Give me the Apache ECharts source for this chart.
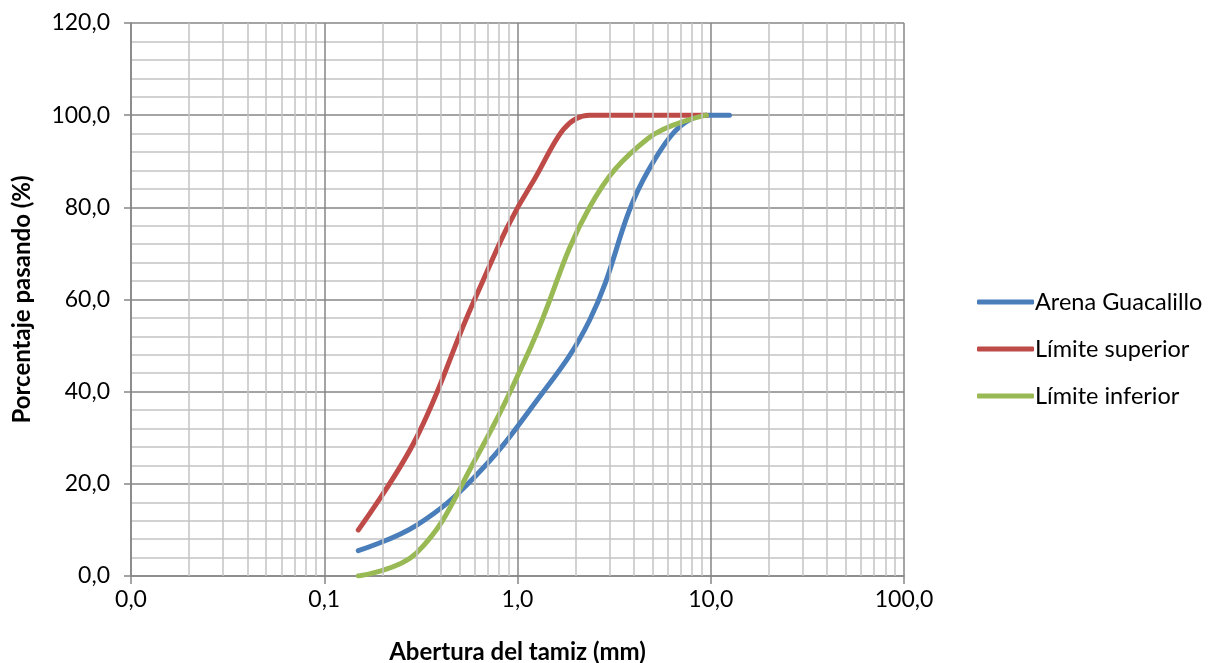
<!DOCTYPE html>
<html>
<head>
<meta charset="utf-8">
<script src="https://cdn.jsdelivr.net/npm/echarts@6/dist/echarts.min.js"></script>
<style>
html,body{margin:0;padding:0;background:#fff;}
#chart{width:1215px;height:663px;}
</style>
</head>
<body>
<div id="chart"></div>
<script>
// Sieve openings (mm)
const sieves = [0.15, 0.3, 0.6, 1.18, 2.36, 4.75, 9.5, 12.5];
const arenaGuacalillo = [5.5, 11, 21.5, 36.5, 55.5, 88, 100, 100];
const sievesLimits = [0.15, 0.3, 0.6, 1.18, 2.36, 4.75, 9.5];
const limiteSuperior = [10, 30, 60, 85, 100, 100, 100];
const limiteInferior = [0, 5, 25, 50, 80, 95, 100];
const seriesNames = ['Arena Guacalillo', 'Límite superior', 'Límite inferior'];
// minor log grid values
const minorX = [0.02,0.03,0.04,0.05,0.06,0.07,0.08,0.09,
                0.2,0.3,0.4,0.5,0.6,0.7,0.8,0.9,
                2,3,4,5,6,7,8,9,
                20,30,40,50,60,70,80,90];

const fontFam = 'Lato, "Open Sans", sans-serif';
const chart = echarts.init(document.getElementById('chart'));
function pair(xs, ys){ return xs.map((x,i)=>[x, ys[i]]); }
const fmt = v => Number(v).toFixed(1).replace('.', ',');
const SMOOTH = 0.4;

chart.setOption({
  animation: false,
  backgroundColor: '#fff',
  grid: {left: 131, right: 311, top: 23, bottom: 87, containLabel: false, outerBoundsMode: 'none'},
  legend: {
    orient: 'vertical', left: 972, top: 285,
    itemWidth: 57, itemHeight: 5, itemGap: 23,
    icon: 'roundRect',
    textStyle: {fontFamily: fontFam, fontSize: 23.5, color: '#000', padding: [0,0,0,-4]},
    data: seriesNames
  },
  xAxis: {
    type: 'log', logBase: 10, min: 0.01, max: 100,
    name: 'Abertura del tamiz (mm)', nameLocation: 'middle', nameGap: 64,
    nameTextStyle: {fontFamily: fontFam, fontSize: 24, fontWeight: 'bold', color: '#000'},
    axisLine: {show: true, onZero: false, lineStyle: {color: '#868686', width: 1.5}},
    axisTick: {show: true, length: 8, lineStyle: {color: '#868686', width: 1.5}},
    axisLabel: {fontFamily: fontFam, fontSize: 23, color: '#000', margin: 12, formatter: fmt},
    splitLine: {show: true, lineStyle: {color: '#868686', width: 1.5}}
  },
  yAxis: {
    type: 'value', min: 0, max: 120, interval: 20,
    name: 'Porcentaje pasando (%)', nameLocation: 'middle', nameGap: 97,
    nameTextStyle: {fontFamily: fontFam, fontSize: 24, fontWeight: 'bold', color: '#000'},
    axisLine: {show: true, lineStyle: {color: '#868686', width: 1.5}},
    axisTick: {show: true, length: 7, lineStyle: {color: '#868686', width: 1.5}},
    axisLabel: {fontFamily: fontFam, fontSize: 23, color: '#000', margin: 21, formatter: fmt},
    splitLine: {show: true, lineStyle: {color: '#868686', width: 1.5}},
    minorTick: {show: false, splitNumber: 5},
    minorSplitLine: {show: true, lineStyle: {color: '#c3c3c3', width: 1.5}}
  },
  series: [
    {
      type: 'line', name: '_grid', data: [], z: 1, silent: true,
      markLine: {
        silent: true, symbol: ['none','none'], animation: false,
        label: {show: false},
        lineStyle: {color: '#c3c3c3', width: 1.5, type: 'solid'},
        data: minorX.map(v => ({xAxis: v}))
      }
    },
    {
      type: 'line', name: seriesNames[0], data: pair(sieves, arenaGuacalillo),
      smooth: SMOOTH, showSymbol: false, z: 3,
      lineStyle: {color: '#4a7ebb', width: 5, cap: 'round'}, itemStyle: {color: '#4a7ebb'}
    },
    {
      type: 'line', name: seriesNames[1], data: pair(sievesLimits, limiteSuperior),
      smooth: SMOOTH, showSymbol: false, z: 3,
      lineStyle: {color: '#be4b48', width: 5, cap: 'round'}, itemStyle: {color: '#be4b48'}
    },
    {
      type: 'line', name: seriesNames[2], data: pair(sievesLimits, limiteInferior),
      smooth: SMOOTH, showSymbol: false, z: 3,
      lineStyle: {color: '#98b954', width: 5, cap: 'round'}, itemStyle: {color: '#98b954'}
    }
  ]
});
</script>
</body>
</html>
